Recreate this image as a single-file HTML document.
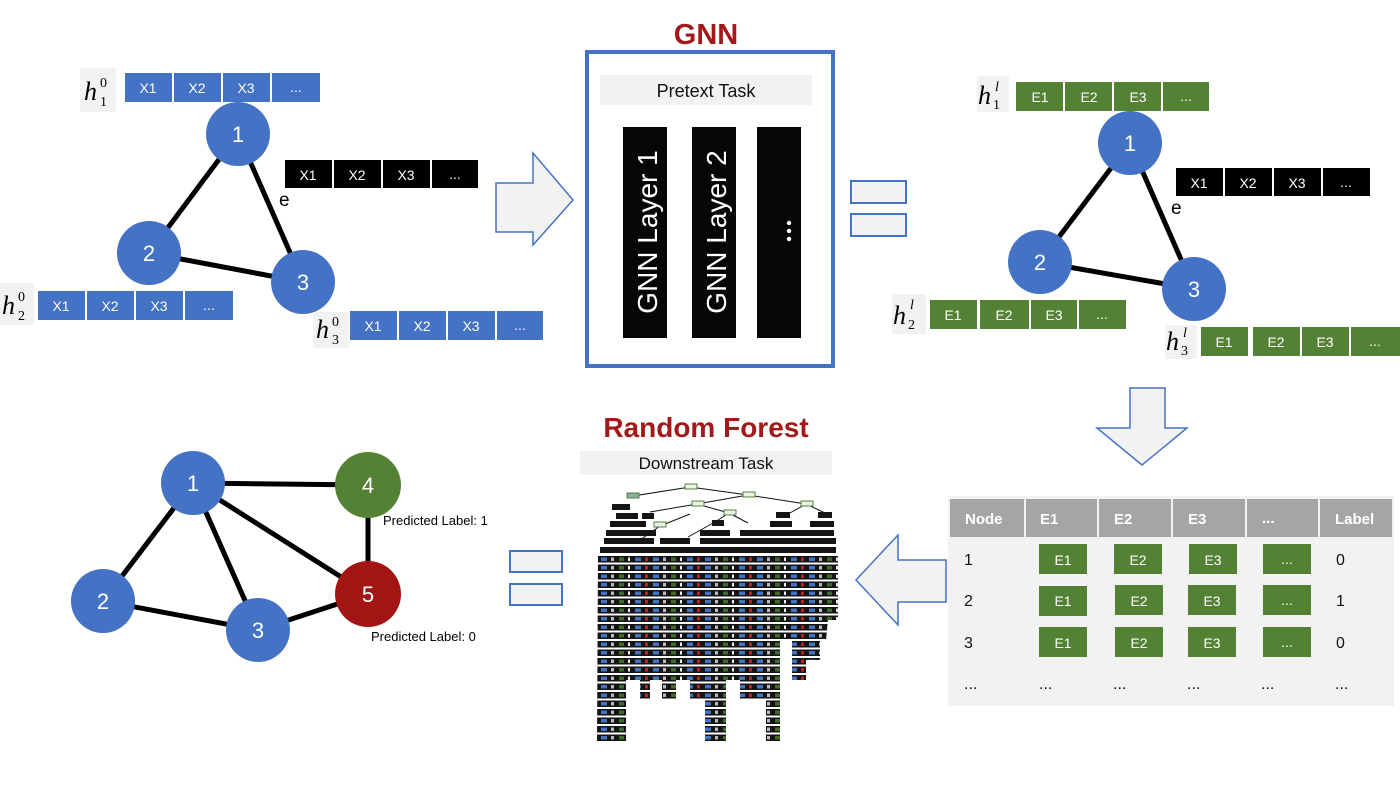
<!DOCTYPE html>
<html><head><meta charset="utf-8"><style>
html,body{margin:0;padding:0;background:#fff;}
svg{display:block;font-family:"Liberation Sans",sans-serif;}
</style></head><body>
<svg width="1400" height="787" viewBox="0 0 1400 787" xmlns="http://www.w3.org/2000/svg">
<defs>
<pattern id="tp" width="52" height="8.5" patternUnits="userSpaceOnUse" x="598" y="556">
<rect x="0" y="0" width="52" height="6.5" fill="#151515"/>
<rect x="3" y="1.5" width="6" height="3.5" fill="#4472C4"/>
<rect x="13" y="1.5" width="3" height="3.5" fill="#bbb"/>
<rect x="21" y="1.5" width="5" height="3.5" fill="#3d6b2a"/>
<rect x="30" y="1.5" width="2" height="3.5" fill="#eee"/>
<rect x="37" y="1.5" width="6" height="3.5" fill="#4472C4"/>
<rect x="47" y="1.5" width="3" height="3.5" fill="#b22"/>
</pattern>
</defs>

<!-- ===== TOP LEFT GRAPH ===== -->
<g stroke="#000" stroke-width="5">
<line x1="238" y1="134" x2="149" y2="253"/>
<line x1="238" y1="134" x2="303" y2="282"/>
<line x1="149" y1="253" x2="303" y2="282"/>
</g>
<g fill="#4472C4">
<circle cx="238" cy="134" r="32"/><circle cx="149" cy="253" r="32"/><circle cx="303" cy="282" r="32"/>
</g>
<g fill="#fff" font-size="22" text-anchor="middle">
<text x="238" y="142">1</text><text x="149" y="261">2</text><text x="303" y="290">3</text>
</g>
<g fill="#f2f2f2"><rect x="80" y="68" width="36" height="44"/><rect x="0" y="283" width="34" height="42"/><rect x="313" y="312" width="36" height="36"/></g>
<g font-family="Liberation Serif,serif" font-style="italic" font-size="26" fill="#000">
<text x="84" y="100">h</text><text x="2" y="314">h</text><text x="316" y="338">h</text>
</g>
<g font-family="Liberation Serif,serif" font-size="14" fill="#000">
<text x="100" y="87">0</text><text x="100" y="106">1</text>
<text x="18" y="301">0</text><text x="18" y="320">2</text>
<text x="332" y="326">0</text><text x="332" y="344">3</text>
</g>
<g fill="#4472C4">
<rect x="125" y="73" width="47" height="29"/><rect x="174" y="73" width="47" height="29"/><rect x="223" y="73" width="47" height="29"/><rect x="272" y="73" width="48" height="29"/>
<rect x="38" y="291" width="47" height="29"/><rect x="87" y="291" width="47" height="29"/><rect x="136" y="291" width="47" height="29"/><rect x="185" y="291" width="48" height="29"/>
<rect x="350" y="311" width="47" height="29"/><rect x="399" y="311" width="47" height="29"/><rect x="448" y="311" width="47" height="29"/><rect x="497" y="311" width="46" height="29"/>
</g>
<g fill="#fff" font-size="14" text-anchor="middle">
<text x="148" y="93">X1</text><text x="197" y="93">X2</text><text x="246" y="93">X3</text><text x="296" y="92">...</text>
<text x="61" y="311">X1</text><text x="110" y="311">X2</text><text x="159" y="311">X3</text><text x="209" y="310">...</text>
<text x="373" y="331">X1</text><text x="422" y="331">X2</text><text x="471" y="331">X3</text><text x="520" y="330">...</text>
</g>
<g fill="#000"><rect x="285" y="160" width="47" height="28"/><rect x="334" y="160" width="47" height="28"/><rect x="383" y="160" width="47" height="28"/><rect x="432" y="160" width="46" height="28"/></g>
<g fill="#fff" font-size="14" text-anchor="middle"><text x="308" y="180">X1</text><text x="357" y="180">X2</text><text x="406" y="180">X3</text><text x="455" y="179">...</text></g>
<text x="279" y="206" font-size="19" fill="#000">e</text>

<path d="M496,183 L533,183 L533,153 L573,200 L533,245 L533,232 L496,232 Z" fill="#f2f2f2" stroke="#4472C4" stroke-width="1.5"/>

<!-- ===== GNN BOX ===== -->
<text x="706" y="44" font-size="29" font-weight="bold" fill="#A31919" text-anchor="middle">GNN</text>
<rect x="587" y="52" width="246" height="314" fill="#fff" stroke="#4472C4" stroke-width="4"/>
<rect x="600" y="75" width="212" height="30" fill="#f2f2f2"/>
<text x="706" y="97" font-size="18" fill="#111" text-anchor="middle">Pretext Task</text>
<g fill="#060606"><rect x="623" y="127" width="44" height="211"/><rect x="692" y="127" width="44" height="211"/><rect x="757" y="127" width="44" height="211"/></g>
<g fill="#fff" font-size="28" text-anchor="middle">
<text transform="translate(657,232) rotate(-90)">GNN Layer 1</text>
<text transform="translate(726,232) rotate(-90)">GNN Layer 2</text>
</g>
<g fill="#fff"><circle cx="789" cy="223" r="2.2"/><circle cx="789" cy="231" r="2.2"/><circle cx="789" cy="239" r="2.2"/></g>

<g fill="#f2f2f2" stroke="#4472C4" stroke-width="2"><rect x="851" y="181" width="55" height="22"/><rect x="851" y="214" width="55" height="22"/></g>

<!-- ===== TOP RIGHT GRAPH ===== -->
<g stroke="#000" stroke-width="5">
<line x1="1130" y1="143" x2="1040" y2="262"/>
<line x1="1130" y1="143" x2="1194" y2="289"/>
<line x1="1040" y1="262" x2="1194" y2="289"/>
</g>
<g fill="#4472C4"><circle cx="1130" cy="143" r="32"/><circle cx="1040" cy="262" r="32"/><circle cx="1194" cy="289" r="32"/></g>
<g fill="#fff" font-size="22" text-anchor="middle"><text x="1130" y="151">1</text><text x="1040" y="270">2</text><text x="1194" y="297">3</text></g>
<g fill="#f2f2f2"><rect x="977" y="76" width="32" height="36"/><rect x="892" y="294" width="34" height="40"/><rect x="1165" y="325" width="32" height="34"/></g>
<g font-family="Liberation Serif,serif" font-style="italic" font-size="26" fill="#000">
<text x="978" y="104">h</text><text x="893" y="324">h</text><text x="1166" y="350">h</text>
<text x="995" y="91" font-size="14">l</text><text x="910" y="309" font-size="14">l</text><text x="1183" y="337" font-size="14">l</text>
</g>
<g font-family="Liberation Serif,serif" font-size="14" fill="#000"><text x="993" y="109">1</text><text x="908" y="329">2</text><text x="1181" y="355">3</text></g>
<g fill="#548235">
<rect x="1016" y="82" width="47" height="29"/><rect x="1065" y="82" width="47" height="29"/><rect x="1114" y="82" width="47" height="29"/><rect x="1163" y="82" width="46" height="29"/>
<rect x="930" y="300" width="47" height="29"/><rect x="980" y="300" width="49" height="29"/><rect x="1031" y="300" width="46" height="29"/><rect x="1079" y="300" width="47" height="29"/>
<rect x="1201" y="327" width="47" height="29"/><rect x="1253" y="327" width="47" height="29"/><rect x="1302" y="327" width="47" height="29"/><rect x="1351" y="327" width="49" height="29"/>
</g>
<g fill="#fff" font-size="14" text-anchor="middle">
<text x="1040" y="102">E1</text><text x="1089" y="102">E2</text><text x="1138" y="102">E3</text><text x="1186" y="101">...</text>
<text x="953" y="320">E1</text><text x="1004" y="320">E2</text><text x="1054" y="320">E3</text><text x="1102" y="319">...</text>
<text x="1224" y="347">E1</text><text x="1276" y="347">E2</text><text x="1325" y="347">E3</text><text x="1375" y="346">...</text>
</g>
<g fill="#000"><rect x="1176" y="168" width="47" height="28"/><rect x="1225" y="168" width="47" height="28"/><rect x="1274" y="168" width="47" height="28"/><rect x="1323" y="168" width="47" height="28"/></g>
<g fill="#fff" font-size="14" text-anchor="middle"><text x="1199" y="188">X1</text><text x="1248" y="188">X2</text><text x="1297" y="188">X3</text><text x="1346" y="187">...</text></g>
<text x="1171" y="214" font-size="19" fill="#000">e</text>

<path d="M1130,388 L1165,388 L1165,428 L1187,428 L1142,465 L1097,428 L1130,428 Z" fill="#f2f2f2" stroke="#4472C4" stroke-width="1.5"/>

<!-- ===== TABLE ===== -->
<rect x="948" y="496" width="446" height="210" fill="#f2f2f2"/>
<g fill="#A5A5A5">
<rect x="950" y="499" width="74" height="38"/><rect x="1026" y="499" width="71" height="38"/><rect x="1099" y="499" width="72" height="38"/><rect x="1173" y="499" width="72" height="38"/><rect x="1247" y="499" width="71" height="38"/><rect x="1320" y="499" width="72" height="38"/>
</g>
<g fill="#fff" font-size="15" font-weight="bold">
<text x="965" y="524">Node</text><text x="1040" y="524">E1</text><text x="1114" y="524">E2</text><text x="1188" y="524">E3</text><text x="1262" y="523">...</text><text x="1335" y="524">Label</text>
</g>
<g fill="#548235">
<rect x="1039" y="544" width="48" height="30"/><rect x="1114" y="544" width="48" height="30"/><rect x="1189" y="544" width="48" height="30"/><rect x="1263" y="544" width="48" height="30"/>
<rect x="1039" y="586" width="48" height="30"/><rect x="1115" y="585" width="48" height="30"/><rect x="1188" y="585" width="48" height="30"/><rect x="1263" y="585" width="48" height="30"/>
<rect x="1039" y="627" width="48" height="30"/><rect x="1115" y="627" width="48" height="30"/><rect x="1188" y="627" width="48" height="30"/><rect x="1263" y="627" width="48" height="30"/>
</g>
<g fill="#fff" font-size="14" text-anchor="middle">
<text x="1063" y="565">E1</text><text x="1138" y="565">E2</text><text x="1213" y="565">E3</text><text x="1287" y="564">...</text>
<text x="1063" y="606">E1</text><text x="1139" y="606">E2</text><text x="1212" y="606">E3</text><text x="1287" y="605">...</text>
<text x="1063" y="648">E1</text><text x="1139" y="648">E2</text><text x="1212" y="648">E3</text><text x="1287" y="647">...</text>
</g>
<g fill="#111" font-size="16">
<text x="964" y="565">1</text><text x="1336" y="565">0</text>
<text x="964" y="606">2</text><text x="1336" y="606">1</text>
<text x="964" y="648">3</text><text x="1336" y="648">0</text>
<text x="964" y="689">...</text><text x="1039" y="689">...</text><text x="1113" y="689">...</text><text x="1187" y="689">...</text><text x="1261" y="689">...</text><text x="1335" y="689">...</text>
</g>

<path d="M946,560 L898,560 L898,535 L856,580 L898,625 L898,602 L946,602 Z" fill="#f2f2f2" stroke="#4472C4" stroke-width="1.5"/>

<!-- ===== RANDOM FOREST ===== -->
<text x="706" y="437" font-size="28" font-weight="bold" fill="#A31919" text-anchor="middle">Random Forest</text>
<rect x="580" y="451" width="252" height="24" fill="#f2f2f2"/>
<text x="706" y="469" font-size="17" fill="#111" text-anchor="middle">Downstream Task</text>
<g stroke="#111" stroke-width="1" fill="none">
<path d="M690,487 L633,496 M690,487 L748,495 M748,495 L697,504 M748,495 L806,504 M697,504 L729,513 M697,504 L650,512 M729,513 L748,523 M729,513 L715,522 M715,522 L688,537 M806,504 L790,513 M806,504 L825,513 M690,514 L660,526 M660,526 L640,540"/>
</g>
<g stroke="#548235" stroke-width="1">
<rect x="685" y="484" width="12" height="5" fill="#eee"/><rect x="627" y="493" width="12" height="5" fill="#8aa"/>
<rect x="743" y="492" width="12" height="5" fill="#eee"/><rect x="692" y="501" width="12" height="5" fill="#eee"/>
<rect x="801" y="501" width="12" height="5" fill="#eee"/><rect x="724" y="510" width="12" height="5" fill="#eee"/>
<rect x="654" y="522" width="12" height="5" fill="#eee"/>
</g>
<g fill="#151515">
<rect x="612" y="504" width="18" height="6"/><rect x="616" y="513" width="22" height="6"/><rect x="642" y="513" width="12" height="6"/>
<rect x="610" y="521" width="36" height="6"/><rect x="606" y="530" width="50" height="6"/><rect x="712" y="520" width="12" height="6"/>
<rect x="776" y="512" width="14" height="6"/><rect x="818" y="512" width="14" height="6"/><rect x="770" y="521" width="22" height="6"/><rect x="810" y="521" width="24" height="6"/>
<rect x="740" y="530" width="94" height="6"/><rect x="700" y="530" width="30" height="6"/><rect x="660" y="538" width="30" height="6"/>
<rect x="604" y="538" width="50" height="6"/><rect x="700" y="538" width="136" height="6"/><rect x="600" y="547" width="236" height="6"/>
</g>
<path d="M598,556 L838,556 L838,620 L828,620 L826,640 L820,640 L820,660 L806,660 L806,680 L792,680 L792,640 L780,640 L780,742 L766,742 L766,700 L740,700 L740,680 L726,680 L726,742 L705,742 L705,700 L690,700 L690,680 L676,680 L676,700 L662,700 L662,680 L650,680 L650,700 L640,700 L640,680 L626,680 L626,742 L597,742 Z" fill="url(#tp)"/>

<g fill="#f2f2f2" stroke="#4472C4" stroke-width="2"><rect x="510" y="551" width="52" height="21"/><rect x="510" y="584" width="52" height="21"/></g>

<!-- ===== BOTTOM LEFT GRAPH ===== -->
<g stroke="#000" stroke-width="5">
<line x1="193" y1="483" x2="368" y2="485"/>
<line x1="193" y1="483" x2="103" y2="601"/>
<line x1="193" y1="483" x2="258" y2="630"/>
<line x1="193" y1="483" x2="368" y2="594"/>
<line x1="103" y1="601" x2="258" y2="630"/>
<line x1="258" y1="630" x2="368" y2="594"/>
<line x1="368" y1="485" x2="368" y2="594"/>
</g>
<circle cx="193" cy="483" r="32" fill="#4472C4"/>
<circle cx="103" cy="601" r="32" fill="#4472C4"/>
<circle cx="258" cy="630" r="32" fill="#4472C4"/>
<circle cx="368" cy="485" r="33" fill="#548235"/>
<circle cx="368" cy="594" r="33" fill="#A31515"/>
<g fill="#fff" font-size="22" text-anchor="middle">
<text x="193" y="491">1</text><text x="103" y="609">2</text><text x="258" y="638">3</text><text x="368" y="493">4</text><text x="368" y="602">5</text>
</g>
<g fill="#000" font-size="13">
<text x="383" y="525">Predicted Label: 1</text>
<text x="371" y="641">Predicted Label: 0</text>
</g>
</svg>
</body></html>
